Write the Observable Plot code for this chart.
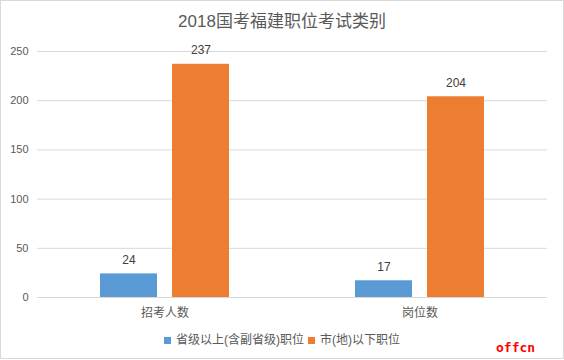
<!DOCTYPE html>
<html>
<head>
<meta charset="utf-8">
<script src="https://cdn.jsdelivr.net/npm/d3@7"></script>
<script src="https://cdn.jsdelivr.net/npm/@observablehq/plot@0.6"></script>
<style>
  html, body { margin: 0; padding: 0; background: #fff; }
  #wrap { position: relative; width: 564px; height: 360px; overflow: hidden;
    font-family: 'Liberation Sans', 'Noto Sans CJK SC', sans-serif; color: #595959; }
  #frame { position: absolute; left: 0; top: 0; width: 562px; height: 357px; border: 1px solid #d9d9d9; pointer-events: none; }
  #title { height: 30px; padding-top: 10px; line-height: 24px; text-align: center; font-size: 17px; color: #595959; }
  #legend { height: 20px; line-height: 20px; display: flex; justify-content: center; align-items: center; font-size: 12px; color: #595959; }
  .sw { display: inline-block; width: 7px; height: 7px; margin-right: 5px; }
  .item { display: flex; align-items: center; margin: 0 2px; }
  #mark { position: absolute; left: 496px; top: 340px; font-family: 'DejaVu Sans Mono', monospace; font-weight: bold; font-size: 13px; color: #ff0000; letter-spacing: 0px; }
</style>
</head>
<body>
<div id="wrap">
  <div id="title">2018国考福建职位考试类别</div>
  <div id="chart"></div>
  <div id="legend"></div>
  <div id="mark">offcn</div>
  <div id="frame"></div>
</div>
<script>
const categories = ["招考人数", "岗位数"];
const series = ["省级以上(含副省级)职位", "市(地)以下职位"];
const provincial = [24, 17];
const municipal = [237, 204];
const yTicks = [0, 50, 100, 150, 200, 250];
const colors = ["#5B9BD5", "#ED7D31"];

const data = [];
categories.forEach((c, i) => {
  data.push({category: c, series: series[0], value: provincial[i]});
  data.push({category: c, series: series[1], value: municipal[i]});
});

const chart = Plot.plot({
  width: 564,
  height: 290,
  marginLeft: 37,
  marginRight: 17,
  marginTop: 11,
  marginBottom: 33,
  style: {fontFamily: "'Liberation Sans','Noto Sans CJK SC',sans-serif", fontSize: "12px", color: "#595959", background: "transparent"},
  fx: {domain: categories, padding: 0, label: null},
  x: {domain: series, axis: null, paddingInner: 0.207, paddingOuter: 0.862},
  y: {domain: [0, 250], axis: null},
  color: {domain: series, range: colors},
  marks: [
    Plot.gridY(yTicks, {stroke: "#d9d9d9", strokeOpacity: 1}),
    Plot.axisY(yTicks, {tickSize: 0, tickPadding: 9, fontSize: 11, label: null}),
    Plot.barY(data, {fx: "category", x: "series", y: "value", fill: "series"}),
    Plot.text(data, {fx: "category", x: "series", y: "value", text: d => String(d.value), dy: -14, fontSize: 12, fill: "#404040"}),
    Plot.axisFx({anchor: "bottom", tickSize: 0, tickPadding: 11, fontSize: 12, label: null})
  ]
});
document.getElementById("chart").appendChild(chart);

const legend = document.getElementById("legend");
series.forEach((s, i) => {
  const item = document.createElement("span");
  item.className = "item";
  const sw = document.createElement("span");
  sw.className = "sw";
  sw.style.background = colors[i];
  item.appendChild(sw);
  item.appendChild(document.createTextNode(s));
  legend.appendChild(item);
});
</script>
</body>
</html>
